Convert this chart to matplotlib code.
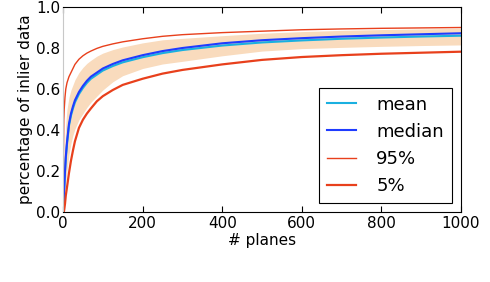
#!/usr/bin/env python3

# Import modules.
import numpy as np
import matplotlib
matplotlib.use("Agg")
import matplotlib.pyplot as plt

# Percentage of inlier data versus number of planes.

Planes = [0, 2, 3, 5, 7, 10, 15, 20, 25, 30, 40, 50, 60, 70, 85, 100, 125, 150, 200, 250, 300,
          400, 500, 600, 700, 800, 900, 1000]
Mean = [0.0, 0.07, 0.11, 0.19, 0.26, 0.33, 0.42, 0.47, 0.505, 0.535, 0.575, 0.605, 0.63, 0.65,
        0.67, 0.69, 0.712, 0.73, 0.755, 0.775, 0.79,
        0.812, 0.827, 0.837, 0.845, 0.851, 0.856, 0.86]
Median = [0.0, 0.08, 0.12, 0.20, 0.27, 0.34, 0.43, 0.48, 0.515, 0.545, 0.585, 0.615, 0.64, 0.66,
          0.68, 0.70, 0.722, 0.74, 0.765, 0.785, 0.80,
          0.823, 0.838, 0.848, 0.856, 0.862, 0.867, 0.872]
Upper = [0.0, 0.45, 0.50, 0.56, 0.60, 0.63, 0.66, 0.68, 0.70, 0.72, 0.745, 0.762, 0.775, 0.785,
         0.798, 0.808, 0.82, 0.83, 0.845, 0.857, 0.865,
         0.875, 0.882, 0.889, 0.893, 0.896, 0.898, 0.90]  # 95%
Lower = [0.0, 0.0, 0.01, 0.04, 0.08, 0.12, 0.19, 0.25, 0.30, 0.345, 0.41, 0.45, 0.48, 0.505,
         0.54, 0.565, 0.595, 0.62, 0.65, 0.675, 0.693,
         0.72, 0.742, 0.756, 0.765, 0.772, 0.777, 0.782]  # 5%
BandTop = [0.0, 0.2, 0.26, 0.35, 0.43, 0.5, 0.56, 0.595, 0.62, 0.645, 0.68, 0.705, 0.725, 0.74,
           0.76, 0.775, 0.792, 0.805, 0.825, 0.84, 0.847,
           0.86, 0.872, 0.88, 0.886, 0.89, 0.893, 0.896]
BandBottom = [0.0, 0.03, 0.05, 0.1, 0.15, 0.2, 0.28, 0.335, 0.375, 0.405, 0.45, 0.48, 0.51, 0.535,
              0.565, 0.595, 0.635, 0.665, 0.70, 0.722, 0.735,
              0.762, 0.785, 0.797, 0.803, 0.808, 0.812, 0.815]

Red = "#e8401c"

Fig = plt.figure(figsize=(4.9, 2.82), dpi=100)
Ax = Fig.add_axes([63 / 490, 70 / 282, 398 / 490, 205 / 282])

Ax.fill_between(Planes, BandBottom, BandTop, color="#f9dbbd", linewidth=0)
Ax.plot(Planes, Mean, color="#1ab0e0", linewidth=1.5, label="mean")
Ax.plot(Planes, Median, color="#1f3cff", linewidth=1.5, label="median")
Ax.plot(Planes, Upper, color=Red, linewidth=1.0, label="95%")
Ax.plot(Planes, Lower, color=Red, linewidth=1.6, label="5%")

Ax.set_xlim([0, 1000])
Ax.set_ylim([0, 1.0])
Ax.set_xticks([0, 200, 400, 600, 800, 1000])
Ax.set_yticks([0.0, 0.2, 0.4, 0.6, 0.8, 1.0])
Ax.tick_params(axis="x", direction="in", top=True, length=4, labelsize=11, pad=3)
Ax.tick_params(axis="y", length=0, labelsize=11, pad=2)
Ax.spines["left"].set_color("#c8c8c8")
Ax.set_xlabel("# planes", fontsize=11, labelpad=1)
Ax.set_ylabel("percentage of inlier data", fontsize=11, labelpad=2)

Leg = Ax.legend(loc="lower right", fontsize=13, handlelength=1.6, handletextpad=1.1,
                labelspacing=0.5, borderpad=0.45, fancybox=False, framealpha=1)
Leg.get_frame().set_edgecolor("black")
Leg.get_frame().set_linewidth(0.8)

Fig.savefig("out.png", dpi=100)
